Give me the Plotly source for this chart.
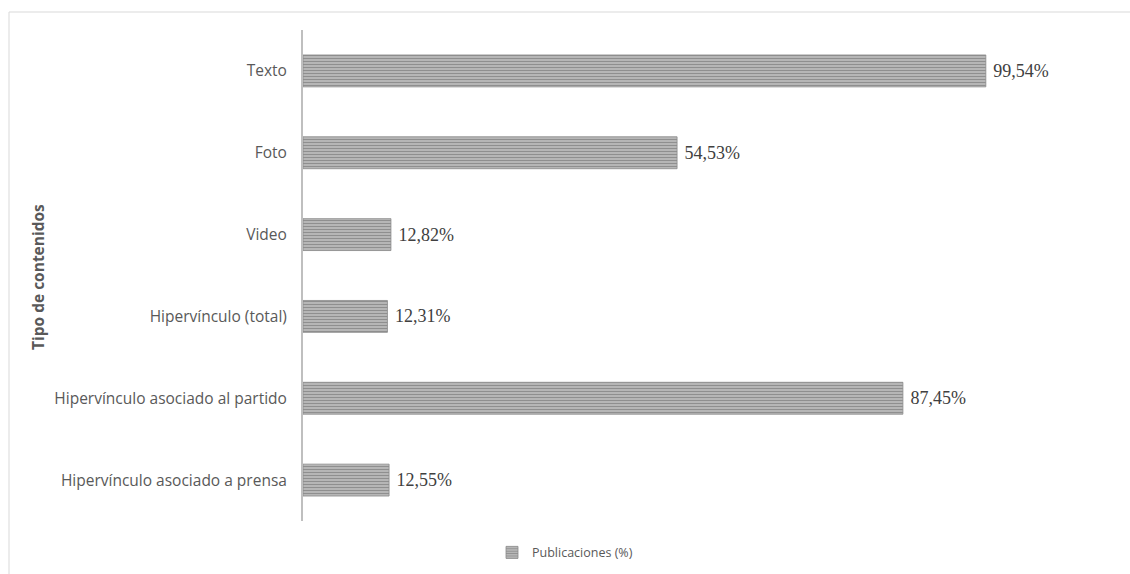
import plotly.graph_objects as go

# Tipo de contenido de las publicaciones y su porcentaje
categorias = [
    "Texto",
    "Foto",
    "Video",
    "Hipervínculo (total)",
    "Hipervínculo asociado al partido",
    "Hipervínculo asociado a prensa",
]
valores = [99.54, 54.53, 12.82, 12.31, 87.45, 12.55]
etiquetas = ["99,54%", "54,53%", "12,82%", "12,31%", "87,45%", "12,55%"]
serie = "Publicaciones (%)"

W, H = 1130, 574
ML, MR, MT, MB = 303, 30, 30, 53
pw = W - ML - MR
ph = H - MT - MB

fig = go.Figure()
fig.add_trace(go.Bar(
    y=categorias,
    x=valores,
    orientation="h",
    name=serie,
    text=["\u00a0" + t for t in etiquetas],
    textposition="outside",
    cliponaxis=False,
    textfont=dict(family="Liberation Serif, Times New Roman, serif", size=18, color="#404040"),
    outsidetextfont=dict(family="Liberation Serif, Times New Roman, serif", size=18, color="#404040"),
    marker=dict(
        color="#bdbdbd",
        line=dict(color="#8a8a8a", width=0.8),
        pattern=dict(shape="-", fgcolor="#5c5c5c", bgcolor="#c2c2c2",
                     size=3, solidity=0.5),
    ),
    showlegend=True,
))


def px_x(x):
    return (x - ML) / pw


def px_y(y):
    return (H - MB - y) / ph


fig.update_layout(
    width=W,
    height=H,
    margin=dict(l=ML, r=MR, t=MT, b=MB),
    paper_bgcolor="white",
    plot_bgcolor="white",
    bargap=0.61,
    font=dict(family="Open Sans", size=14, color="#595959"),
    xaxis=dict(range=[0, pw / 6.86], showgrid=False, zeroline=False,
               showticklabels=False, ticks="", showline=False),
    yaxis=dict(autorange="reversed", showgrid=False, zeroline=False,
               showline=True, linecolor="#bfbfbf", linewidth=2,
               ticks="", ticklabelstandoff=11,
               tickfont=dict(family="Open Sans", size=15.5, color="#595959")),
    legend=dict(orientation="h", xref="container", yref="container",
                x=0.5, xanchor="center", y=0.037, yanchor="middle",
                font=dict(family="Open Sans", size=12.5, color="#595959"),
                itemwidth=30),
    shapes=[dict(type="rect", xref="paper", yref="paper",
                 x0=px_x(9), x1=px_x(1140), y0=px_y(590), y1=px_y(12),
                 line=dict(color="#d9d9d9", width=1), fillcolor="rgba(0,0,0,0)",
                 layer="below")],
    annotations=[dict(text="<b>Tipo de contenidos</b>", textangle=-90,
                      xref="paper", yref="paper", x=px_x(38), y=px_y(277),
                      xanchor="center", yanchor="middle", showarrow=False,
                      font=dict(family="Open Sans", size=15.5, color="#595959"))],
)

fig.write_html("out.html")
